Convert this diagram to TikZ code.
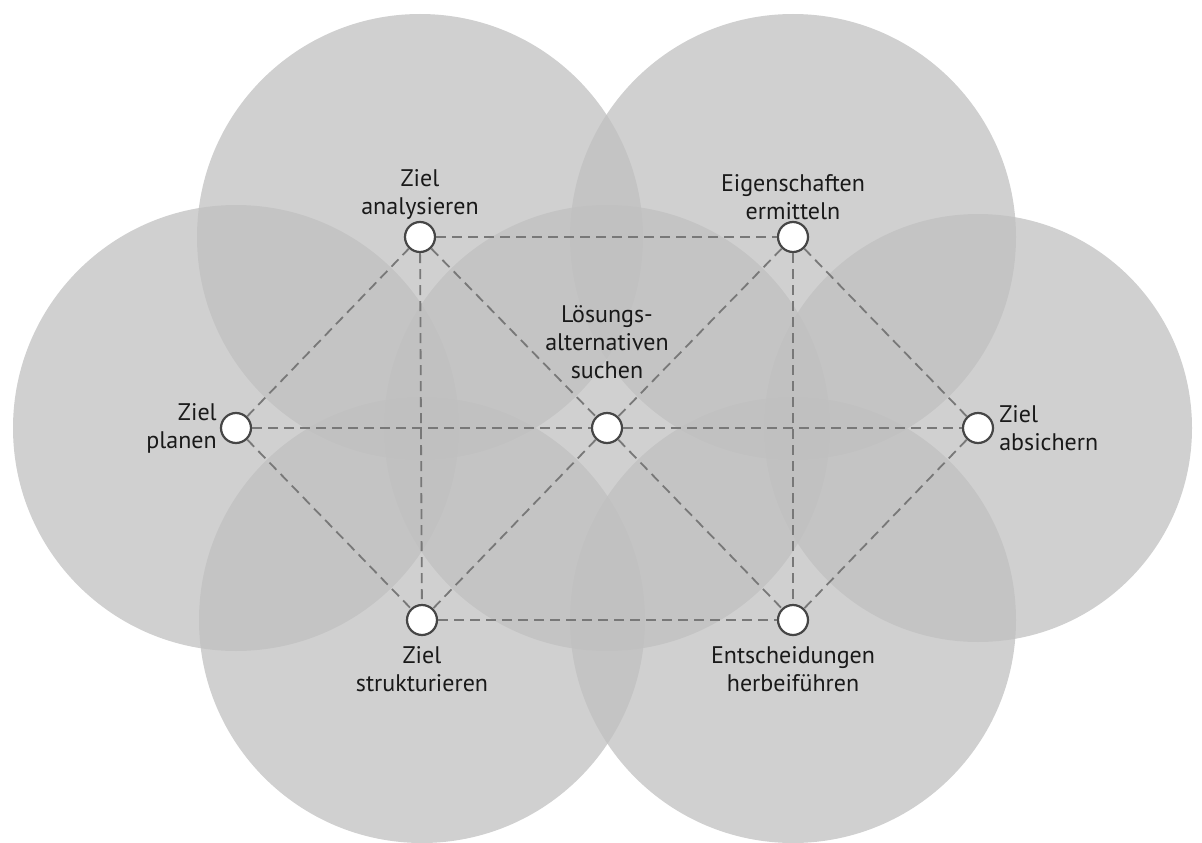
\documentclass[tikz,border=0pt]{standalone}
\usepackage{fontspec}
\setmainfont{PT Sans}
\usetikzlibrary{positioning}
\definecolor{zonegray}{RGB}{192,192,192}
\definecolor{ringgray}{RGB}{70,70,70}
\definecolor{linkgray}{RGB}{120,120,120}
\definecolor{textdark}{RGB}{25,25,25}
\begin{document}
\begin{tikzpicture}[x=1pt,y=-1pt,
  zone/.style={fill=zonegray, fill opacity=0.75, draw=none},
  station/.style={circle, draw=ringgray, line width=2.2pt, fill=white,
    minimum size=30pt, inner sep=0pt},
  link/.style={draw=linkgray, dash pattern=on 10pt off 6pt, line width=1.8pt},
  lbl/.style={font=\fontsize{24}{28}\selectfont, text=textdark, inner sep=1pt}]
\useasboundingbox (0,0) rectangle (1202,843);

% overlapping working areas
\fill[zone] (236,428) circle[radius=223pt];
\fill[zone] (420,237) circle[radius=223pt];
\fill[zone] (793,237) circle[radius=223pt];
\fill[zone] (978,428) circle[radius=214pt];
\fill[zone] (422,620) circle[radius=223pt];
\fill[zone] (793,620) circle[radius=223pt];
\fill[zone] (607,428) circle[radius=223pt];

% stations
\node[station] (plan) at (236,428) {};
\node[station] (anal) at (420,237) {};
\node[station] (eig)  at (793,237) {};
\node[station] (abs)  at (978,428) {};
\node[station] (str)  at (422,620) {};
\node[station] (ent)  at (793,620) {};
\node[station] (loes) at (607,428) {};

% connections
\draw[link] (anal) -- (eig);
\draw[link] (str) -- (ent);
\draw[link] (plan) -- (loes);
\draw[link] (loes) -- (abs);
\draw[link] (anal) -- (str);
\draw[link] (eig) -- (ent);
\draw[link] (plan) -- (anal);
\draw[link] (plan) -- (str);
\draw[link] (abs) -- (eig);
\draw[link] (abs) -- (ent);
\draw[link] (anal) -- (loes);
\draw[link] (loes) -- (ent);
\draw[link] (eig) -- (loes);
\draw[link] (loes) -- (str);

% labels
\node[lbl, align=center, above=0pt of anal] (tanal) {Ziel\\analysieren};
\node[lbl, align=center, above=0pt of eig] (teig) {Eigenschaften\\ermitteln};
\node[lbl, align=center, above=32pt of loes] (tloes) {Lösungs-\\alternativen\\suchen};
\node[lbl, align=right, left=2pt of plan] (tplan) {Ziel\\planen};
\node[lbl, align=left, right=4pt of abs] (tabs) {Ziel\\absichern};
\node[lbl, align=center, below=9pt of str] (tstr) {Ziel\\strukturieren};
\node[lbl, align=center, below=9pt of ent] (tent) {Entscheidungen\\herbeiführen};
\end{tikzpicture}
\end{document}
